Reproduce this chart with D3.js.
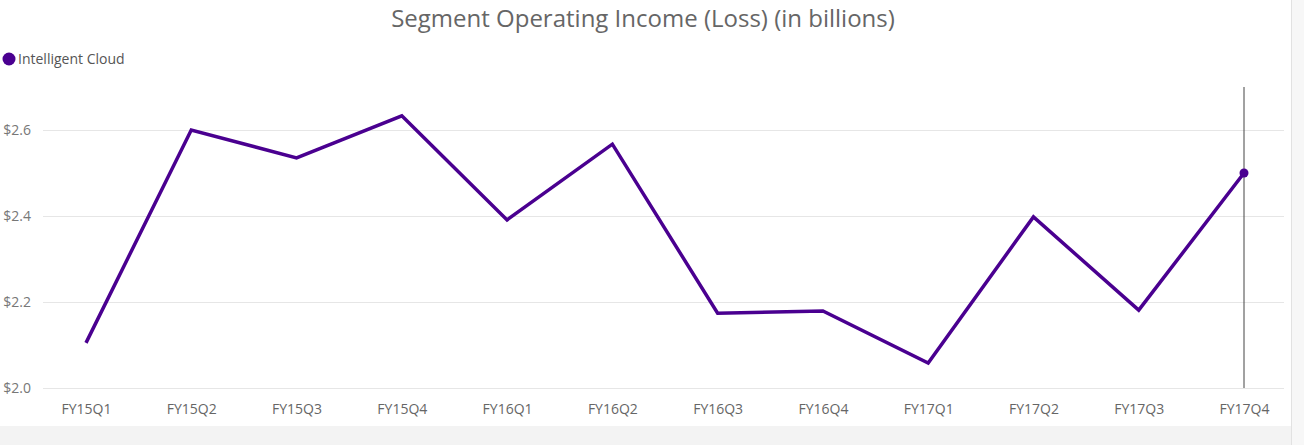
<!DOCTYPE html>
<meta charset="utf-8">
<script src="https://d3js.org/d3.v7.min.js"></script>
<style>
  body { margin: 0; background: #fff; }
  text { font-family: "Open Sans", "Noto Sans", sans-serif; }
</style>
<div id="my_dataviz"></div>
<script>

// data
var quarters = ["FY15Q1", "FY15Q2", "FY15Q3", "FY15Q4", "FY16Q1", "FY16Q2",
                "FY16Q3", "FY16Q4", "FY17Q1", "FY17Q2", "FY17Q3", "FY17Q4"];
var cloudIncome = [2.105, 2.60, 2.535, 2.633, 2.391, 2.567,
                   2.174, 2.179, 2.058, 2.398, 2.181, 2.50];
var yTicks = [2.0, 2.2, 2.4, 2.6];
var seriesName = "Intelligent Cloud";
var lineColor = "#4a0090";

var W = 1304, H = 445;

var svg = d3.select("#my_dataviz")
  .append("svg")
    .attr("width", W)
    .attr("height", H);

// page background bands
svg.append("rect").attr("x", 0).attr("y", 426).attr("width", W).attr("height", H - 426).style("fill", "#f3f3f3");
svg.append("rect").attr("x", 1291).attr("y", 0).attr("width", W - 1291).attr("height", H).style("fill", "#f7f7f7");
svg.append("line").attr("x1", 1291.5).attr("x2", 1291.5).attr("y1", 0).attr("y2", H).style("stroke", "#e2e2e2");

// scales
var x = d3.scalePoint()
  .domain(quarters)
  .range([86, 1244]);

var y = d3.scaleLinear()
  .domain([2.0, 2.6])
  .range([388, 130]);

// grid lines
svg.append("g")
  .selectAll("line")
  .data(yTicks)
  .enter()
  .append("line")
    .attr("x1", 43)
    .attr("x2", 1284)
    .attr("y1", function(d) { return y(d) + 0.5; })
    .attr("y2", function(d) { return y(d) + 0.5; })
    .style("stroke", "#e6e6e6")
    .style("stroke-width", 1);

// Y axis
var yAxis = svg.append("g")
  .attr("transform", "translate(34,0)")
  .call(d3.axisLeft(y).tickValues(yTicks).tickSize(0).tickFormat(function(d) { return "$" + d3.format(".1f")(d); }));
yAxis.select(".domain").remove();
yAxis.selectAll("text")
  .style("font-size", "14px")
  .style("fill", "#777")
  .attr("dy", "0.35em");

// X axis
var xAxis = svg.append("g")
  .attr("transform", "translate(0,400)")
  .call(d3.axisBottom(x).tickSize(0));
xAxis.select(".domain").remove();
xAxis.selectAll("text")
  .style("font-size", "14px")
  .style("fill", "#666")
  .attr("dy", "0.8em");

// hover line
svg.append("line")
  .attr("x1", x(quarters[quarters.length - 1]))
  .attr("x2", x(quarters[quarters.length - 1]))
  .attr("y1", 87)
  .attr("y2", 388)
  .style("stroke", "#444")
  .style("stroke-width", 1);

// the line
var line = d3.line()
  .x(function(d, i) { return x(quarters[i]); })
  .y(function(d) { return y(d); });

svg.append("path")
  .datum(cloudIncome)
  .attr("d", line)
  .style("fill", "none")
  .style("stroke", lineColor)
  .style("stroke-width", 3.5)
  .style("stroke-linejoin", "miter");

// highlighted point
var last = cloudIncome.length - 1;
svg.append("circle")
  .attr("cx", x(quarters[last]))
  .attr("cy", y(cloudIncome[last]))
  .attr("r", 4.5)
  .style("fill", lineColor);

// title
svg.append("text")
  .attr("x", 643)
  .attr("y", 27)
  .attr("text-anchor", "middle")
  .style("font-size", "24px")
  .style("fill", "#666")
  .text("Segment Operating Income (Loss) (in billions)");

// legend
svg.append("circle").attr("cx", 9).attr("cy", 59).attr("r", 6.5).style("fill", lineColor);
svg.append("text").attr("x", 18).attr("y", 59).attr("dy", "0.35em").text(seriesName)
  .style("font-size", "14px").style("fill", "#555");

</script>
